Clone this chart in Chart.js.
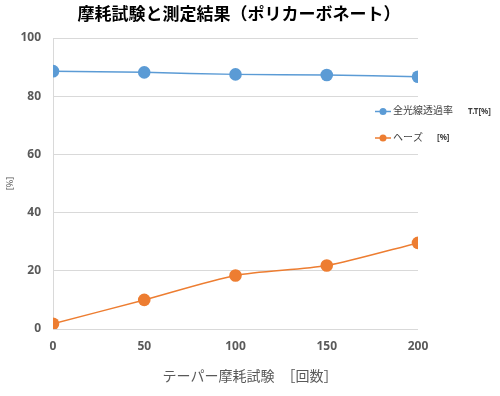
<!DOCTYPE html>
<html>
<head>
<meta charset="utf-8">
<script src="https://cdn.jsdelivr.net/npm/chart.js@4"></script>
<style>
html,body{margin:0;padding:0;background:#fff;}
#wrap{width:500px;height:396px;}
</style>
</head>
<body>
<div id="wrap"><canvas id="c" width="500" height="396"></canvas></div>
<script>
const cycles = [0, 50, 100, 150, 200];
const transmittance = [88.6, 88.2, 87.5, 87.3, 86.7];
const haze = [1.8, 10.0, 18.4, 21.8, 29.6];
const seriesNames = ['全光線透過率', 'ヘーズ'];
const seriesUnits = ['T.T[%]', '[%]'];
const chartTitle = '摩耗試験と測定結果（ポリカーボネート）';
const xTitle = 'テーパー摩耗試験　［回数］';
const yTitle = '[%]';

const FONT = "'Noto Sans', 'Noto Sans CJK JP', sans-serif";
const BLUE = '#5B9BD5';
const ORANGE = '#ED7D31';

const textPlugin = {
  id: 'texts',
  afterDraw(chart) {
    const ctx = chart.ctx;
    const ca = chart.chartArea;
    ctx.save();
    // title
    ctx.fillStyle = '#000';
    ctx.textAlign = 'center';
    ctx.textBaseline = 'middle';
    ctx.font = "bold 17px " + FONT;
    ctx.fillText(chartTitle, 239, 15);
    // x axis title
    ctx.fillStyle = '#595959';
    ctx.font = "14px " + FONT;
    ctx.fillText(xTitle, 250, 377);
    // legend
    const x0 = ca.right - 43;
    const ys = [111.5, 138];
    const unitX = [468, 437];
    chart.data.datasets.forEach((ds, i) => {
      const y = ys[i];
      ctx.strokeStyle = ds.borderColor;
      ctx.lineWidth = 1.5;
      ctx.beginPath();
      ctx.moveTo(x0, y);
      ctx.lineTo(x0 + 16, y);
      ctx.stroke();
      ctx.fillStyle = ds.backgroundColor;
      ctx.beginPath();
      ctx.arc(x0 + 8, y, 3.5, 0, Math.PI * 2);
      ctx.fill();
      ctx.fillStyle = '#404040';
      ctx.textBaseline = 'middle';
      ctx.textAlign = 'left';
      ctx.font = "10px " + FONT;
      ctx.fillText(seriesNames[i], x0 + 18, y);
      ctx.font = "bold 8px " + FONT;
      ctx.fillText(seriesUnits[i], unitX[i], y);
    });
    ctx.restore();
  }
};

new Chart(document.getElementById('c'), {
  type: 'line',
  data: {
    datasets: [
      {
        label: seriesNames[0],
        data: cycles.map((c, i) => ({x: c, y: transmittance[i]})),
        borderColor: BLUE,
        backgroundColor: BLUE,
        borderWidth: 1.5,
        pointRadius: 6.3,
        pointHoverRadius: 6.3,
        pointBorderWidth: 0,
        tension: 0.2
      },
      {
        label: seriesNames[1],
        data: cycles.map((c, i) => ({x: c, y: haze[i]})),
        borderColor: ORANGE,
        backgroundColor: ORANGE,
        borderWidth: 1.5,
        pointRadius: 6.3,
        pointHoverRadius: 6.3,
        pointBorderWidth: 0,
        tension: 0.25
      }
    ]
  },
  options: {
    responsive: false,
    animation: false,
    layout: { padding: { top: 38, right: 82, bottom: 0, left: 0 } },
    plugins: {
      legend: { display: false },
      tooltip: { enabled: false },
      title: { display: false }
    },
    scales: {
      x: {
        type: 'linear',
        min: 0,
        max: 200,
        afterFit(s) { s.height = 67; },
        ticks: {
          stepSize: 50,
          color: '#595959',
          font: { family: FONT, size: 12, weight: 'bold' },
          padding: 10
        },
        grid: { display: false, drawTicks: false },
        border: { display: false }
      },
      y: {
        min: 0,
        max: 100,
        afterFit(s) { s.width = 53; },
        ticks: {
          stepSize: 20,
          color: '#595959',
          font: { family: FONT, size: 12, weight: 'bold' },
          padding: 12
        },
        grid: { color: '#D9D9D9', lineWidth: 1, drawTicks: false },
        border: { display: true, color: '#D9D9D9', width: 1 },
        title: {
          display: true,
          text: yTitle,
          color: '#595959',
          font: { family: FONT, size: 9 },
          padding: { top: 5, bottom: 0 }
        }
      }
    }
  },
  plugins: [textPlugin]
});
</script>
</body>
</html>
